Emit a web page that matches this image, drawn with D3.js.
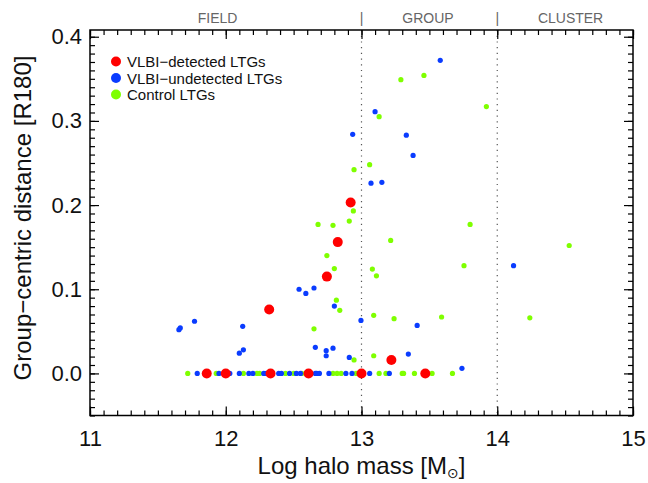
<!DOCTYPE html>
<html>
<head>
<meta charset="utf-8">
<script src="https://cdn.jsdelivr.net/npm/d3@7"></script>
<style>
body { margin: 0; background: #fff; }
text { font-family: "Liberation Sans", "DejaVu Sans", sans-serif; }
</style>
</head>
<body>
<svg id="graph" width="648" height="483"></svg>
<script>
// VLBI-detected LTGs
var detMass = [11.86, 12.00, 12.33, 12.61, 13.00, 13.47, 12.32, 12.745, 12.825, 12.92, 13.22];
var detDist = [0, 0, 0, 0, 0, 0, 0.076, 0.115, 0.156, 0.203, 0.016];

// VLBI-undetected LTGs
var undMass = [11.655, 11.665, 11.77, 12.125, 12.10, 12.13, 12.54, 12.59, 12.65, 12.66, 12.80, 12.74, 12.74, 12.79, 12.91,
	12.996, 13.41, 13.345, 13.74, 14.12, 13.58, 13.10, 12.935, 13.33, 13.38, 13.07, 13.15,
	11.79, 11.95, 12.03, 12.10, 12.17, 12.20, 12.28, 12.30, 12.39, 12.41, 12.47, 12.52, 12.55, 12.66, 12.67, 12.69,
	12.76, 12.885, 12.93, 13.06, 13.205];
var undDist = [0.052, 0.054, 0.062, 0.056, 0.024, 0.028, 0.100, 0.095, 0.1015, 0.031, 0.080, 0.027, 0.021, 0.030, 0.019,
	0.063, 0.057, 0.023, 0.006, 0.128, 0.372, 0.311, 0.284, 0.283, 0.259, 0.226, 0.227,
	0, 0, 0, 0, 0, 0, 0, 0, 0, 0, 0, 0, 0, 0, 0, 0,
	0, 0, 0, 0, 0];

// Control LTGs
var ctlMass = [13.29, 13.46, 13.92, 13.13, 13.06, 12.945, 12.94, 12.91, 12.68, 12.79, 13.80, 13.215, 12.745, 12.80, 13.08,
	13.11, 13.755, 12.815, 12.84, 12.65, 13.09, 13.24, 13.59, 14.24, 14.53, 13.09, 12.945,
	11.72, 11.93, 12.13, 12.23, 12.25, 12.44, 12.50, 12.56, 12.79, 12.82, 12.85, 12.96, 13.13, 13.18, 13.30, 13.31,
	13.39, 13.52, 13.67];
var ctlDist = [0.349, 0.354, 0.317, 0.305, 0.248, 0.242, 0.193, 0.181, 0.177, 0.176, 0.177, 0.158, 0.140, 0.1246, 0.124,
	0.116, 0.128, 0.087, 0.075, 0.053, 0.069, 0.065, 0.067, 0.066, 0.152, 0.021, 0.016,
	0, 0, 0, 0, 0, 0, 0, 0, 0, 0, 0, 0, 0, 0, 0, 0,
	0, 0, 0];

var regionNames = ["FIELD", "GROUP", "CLUSTER"];
var regionCentres = [11.94, 13.49, 14.54];
var regionBounds = [13, 14];

var xTicks = [11, 12, 13, 14, 15];
var yTicks = [0.0, 0.1, 0.2, 0.3, 0.4];

var legendNames = ["VLBI-detected LTGs", "VLBI-undetected LTGs", "Control LTGs"];
var legendColors = ["#ff0000", "#0a3cff", "#7fff00"];

var svg = d3.select("#graph");

var plotLeft = 90, plotRight = 633, plotTop = 30, plotBottom = 415.5;

var xScale = d3.scaleLinear().domain([11, 15]).range([plotLeft, plotRight]),
	yScale = d3.scaleLinear().domain([-0.05, 0.408]).range([plotBottom, plotTop]);

function toPoints(ms, ds) {
	return ms.map(function(m, i) { return {m: m, d: ds[i]}; });
}

// dotted region boundaries
svg.selectAll(".bound")
	.data(regionBounds)
	.enter().append("line")
	.attr("x1", function(d) { return xScale(d); })
	.attr("x2", function(d) { return xScale(d); })
	.attr("y1", plotTop)
	.attr("y2", plotBottom)
	.attr("stroke", "#555")
	.attr("stroke-width", 1.2)
	.attr("stroke-dasharray", "1.2,4.5");

// region names on top
svg.selectAll(".region")
	.data(regionNames)
	.enter().append("text")
	.attr("x", function(d, i) { return xScale(regionCentres[i]); })
	.attr("y", 23)
	.attr("text-anchor", "middle")
	.attr("font-size", "14px")
	.attr("fill", "#666")
	.text(function(d) { return d; });

svg.selectAll(".sep")
	.data(regionBounds)
	.enter().append("text")
	.attr("x", function(d) { return xScale(d); })
	.attr("y", 23)
	.attr("text-anchor", "middle")
	.attr("font-size", "14px")
	.attr("fill", "#666")
	.text("|");

// axes
var xMinor = d3.range(110, 151).map(function(d) { return d / 10; });
var yMinor = d3.range(-5, 41).map(function(d) { return d / 100; });

function styleAxis(g) {
	g.select(".domain").remove();
	g.selectAll("line").attr("stroke", "#000").attr("stroke-width", 1.2);
}

svg.append("g")
	.attr("transform", "translate(0," + plotBottom + ")")
	.call(d3.axisBottom(xScale).tickValues(xMinor).tickSize(-5).tickFormat(""))
	.call(styleAxis);
svg.append("g")
	.attr("transform", "translate(0," + plotBottom + ")")
	.call(d3.axisBottom(xScale).tickValues(xTicks).tickSize(-9).tickPadding(15).tickFormat(d3.format("d")))
	.call(styleAxis)
	.selectAll("text").attr("font-size", "22px").attr("fill", "#111");

svg.append("g")
	.attr("transform", "translate(0," + plotTop + ")")
	.call(d3.axisTop(xScale).tickValues(xMinor).tickSize(-5).tickFormat(""))
	.call(styleAxis);
svg.append("g")
	.attr("transform", "translate(0," + plotTop + ")")
	.call(d3.axisTop(xScale).tickValues(xTicks).tickSize(-9).tickFormat(""))
	.call(styleAxis);

svg.append("g")
	.attr("transform", "translate(" + plotLeft + ",0)")
	.call(d3.axisLeft(yScale).tickValues(yMinor).tickSize(-5).tickFormat(""))
	.call(styleAxis);
svg.append("g")
	.attr("transform", "translate(" + plotLeft + ",0)")
	.call(d3.axisLeft(yScale).tickValues(yTicks).tickSize(-9).tickPadding(8).tickFormat(d3.format(".1f")))
	.call(styleAxis)
	.selectAll("text").attr("font-size", "22px").attr("fill", "#111");

svg.append("g")
	.attr("transform", "translate(" + plotRight + ",0)")
	.call(d3.axisRight(yScale).tickValues(yMinor).tickSize(-5).tickFormat(""))
	.call(styleAxis);
svg.append("g")
	.attr("transform", "translate(" + plotRight + ",0)")
	.call(d3.axisRight(yScale).tickValues(yTicks).tickSize(-9).tickFormat(""))
	.call(styleAxis);

svg.append("rect")
	.attr("x", plotLeft)
	.attr("y", plotTop)
	.attr("width", plotRight - plotLeft)
	.attr("height", plotBottom - plotTop)
	.attr("fill", "none")
	.attr("stroke", "#000")
	.attr("stroke-width", 1.5);

// axis titles
var xTitle = svg.append("text")
	.attr("x", xScale(13))
	.attr("y", 474)
	.attr("text-anchor", "middle")
	.attr("font-size", "24px")
	.attr("fill", "#111");
xTitle.append("tspan").text("Log halo mass [M");
xTitle.append("tspan").attr("font-size", "14px").attr("dy", 4).text("\u2299");
xTitle.append("tspan").attr("dy", -4).text("]");

svg.append("text")
	.attr("transform", "translate(31,218) rotate(-90)")
	.attr("text-anchor", "middle")
	.attr("font-size", "24px")
	.attr("fill", "#111")
	.text("Group\u2212centric distance [R180]");

// points
var groups = [
	{pts: toPoints(ctlMass, ctlDist), r: 2.6, c: legendColors[2]},
	{pts: toPoints(undMass, undDist), r: 2.6, c: legendColors[1]},
	{pts: toPoints(detMass, detDist), r: 5, c: legendColors[0]}
];

groups.forEach(function(grp) {
	svg.append("g")
		.selectAll("circle")
		.data(grp.pts)
		.enter().append("circle")
		.attr("cx", function(d) { return xScale(d.m); })
		.attr("cy", function(d) { return yScale(d.d); })
		.attr("r", grp.r)
		.attr("fill", grp.c);
});

// legend
var legend = svg.append("g")
	.selectAll("g")
	.data(legendNames)
	.enter().append("g")
	.attr("transform", function(d, i) { return "translate(116," + (61.5 + i * 16.5) + ")"; });

legend.append("circle")
	.attr("r", 5)
	.attr("fill", function(d, i) { return legendColors[i]; });

legend.append("text")
	.attr("x", 11)
	.attr("y", 5.5)
	.attr("font-size", "15px")
	.attr("fill", "#111")
	.text(function(d) { return d.replace("-", "\u2212"); });
</script>
</body>
</html>
